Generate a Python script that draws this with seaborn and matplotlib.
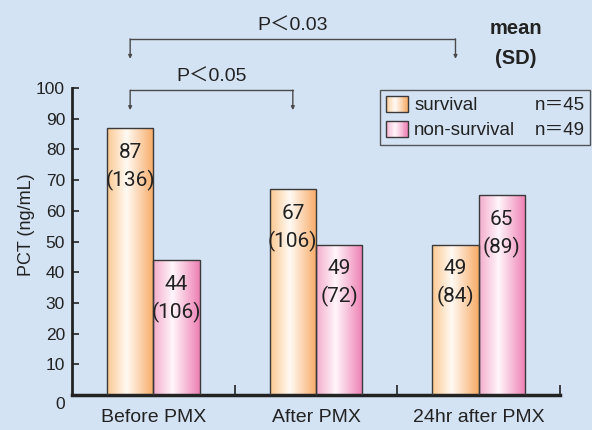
import numpy as np
import pandas as pd
import matplotlib
matplotlib.use("Agg")
import matplotlib.pyplot as plt
from matplotlib.colors import LinearSegmentedColormap
from matplotlib.patches import Patch, Rectangle
from matplotlib.legend_handler import HandlerBase
from matplotlib import font_manager
import seaborn as sns

# data
phases = ["Before PMX", "After PMX", "24hr after PMX"]
groups = ["survival", "non-survival"]
group_n = ["n＝45", "n＝49"]
survival_mean = [87, 67, 49]
survival_sd = [136, 106, 84]
nonsurv_mean = [44, 49, 65]
nonsurv_sd = [106, 72, 89]
y_ticks = list(range(0, 101, 10))
# comparisons of the survival group against "Before PMX"
comp_phase = [1, 2]
comp_text = ["P＜0.05", "P＜0.03"]

bg = "#d3e3f3"
ink = "#222222"
edge = "#3a3a3a"
grad_stops = {
    "survival": ["#fcc890", "#fffaf4", "#f8ab66"],
    "non-survival": ["#f4abcc", "#fff6fa", "#ee7fb4"],
}
solid = {"survival": "#fdd3a8", "non-survival": "#f6b6d3"}
cmaps = {g: LinearSegmentedColormap.from_list(g, [(0, c[0]), (0.42, c[1]), (1, c[2])])
         for g, c in grad_stops.items()}

names = {f.name for f in font_manager.fontManager.ttflist}
narrow = "Liberation Sans Narrow" if "Liberation Sans Narrow" in names else "Roboto"

sns.set_theme(style="white")
plt.rcParams["font.family"] = ["Liberation Sans", "Noto Sans CJK JP", "DejaVu Sans"]
narrow_fam = [narrow, "Liberation Sans", "DejaVu Sans"]


class GradientHandler(HandlerBase):
    # legend key drawn as thin vertical stripes following the bar gradient
    def create_artists(self, legend, orig_handle, xdescent, ydescent, width, height,
                       fontsize, trans):
        cmap = cmaps[orig_handle.get_label()]
        n = 24
        arts = []
        for i in range(n):
            arts.append(Rectangle((-xdescent + width * i / n, -ydescent), width / n + 0.3,
                                  height, facecolor=cmap((i + 0.5) / n), edgecolor="none",
                                  transform=trans))
        arts.append(Rectangle((-xdescent, -ydescent), width, height, facecolor="none",
                              edgecolor=edge, linewidth=1, transform=trans))
        return arts


df = pd.DataFrame({
    "phase": phases * 2,
    "group": [groups[0]] * 3 + [groups[1]] * 3,
    "mean": survival_mean + nonsurv_mean,
})

fig = plt.figure(figsize=(5.92, 4.30), dpi=100, facecolor=bg)
ax = fig.add_axes([72 / 592, 1 - 395 / 430, 488 / 592, 307 / 430])
ax.set_facecolor(bg)

sns.barplot(data=df, x="phase", y="mean", hue="group", order=phases, hue_order=groups,
            palette=[solid[g] for g in groups], width=0.57, edgecolor=edge, linewidth=1,
            errorbar=None, legend=False, ax=ax, zorder=2)

# gradient fill inside each bar
ramp = np.linspace(0, 1, 256)[None, :]
for cont, g in zip(ax.containers, groups):
    for bar in cont:
        x0, w, h = bar.get_x(), bar.get_width(), bar.get_height()
        img = ax.imshow(ramp, cmap=cmaps[g], extent=[x0, x0 + w, 0, h], aspect="auto",
                        interpolation="bilinear", zorder=2)
        img.set_clip_path(bar)
        bar.set_facecolor("none")
        bar.set_zorder(3)

ax.set_xlim(-0.5, 2.5)
ax.set_ylim(0, 100)

# mean / sd labels inside bars
for cont, sds in zip(ax.containers, [survival_sd, nonsurv_sd]):
    for bar, sd in zip(cont, sds):
        cx = bar.get_x() + bar.get_width() / 2
        top = bar.get_height()
        ax.annotate(f"{top:.0f}", (cx, top), xytext=(0, -17.5), textcoords="offset points",
                    ha="center", va="center", fontsize=15, color=ink, family=narrow_fam, zorder=4)
        ax.annotate(f"({sd})", (cx, top), xytext=(0, -37.5), textcoords="offset points",
                    ha="center", va="center", fontsize=15, color=ink, family=narrow_fam, zorder=4)

# significance brackets
surv_bars = ax.containers[0]
x_ref = surv_bars[0].get_x() + surv_bars[0].get_width() / 2
br_y = [99.3, 116.0]
br_drop = 6.5
br_ty = [103.4, 120.2]
for ph, txt, yy, ty in zip(comp_phase, comp_text, br_y, br_ty):
    b = surv_bars[ph]
    x2 = b.get_x() + b.get_width() / 2
    ax.plot([x_ref, x2], [yy, yy], color="#4a4a4a", lw=1, clip_on=False)
    for xx in (x_ref, x2):
        ax.annotate("", xy=(xx, yy - br_drop), xytext=(xx, yy),
                    arrowprops=dict(arrowstyle="-|>", color="#4a4a4a", lw=1,
                                    mutation_scale=5, shrinkA=0, shrinkB=0),
                    annotation_clip=False)
    ax.text((x_ref + x2) / 2, ty, txt, ha="center", va="center", fontsize=14,
            color=ink, clip_on=False)

fig.text(516 / 592, 1 - 28 / 430, "mean", ha="center", va="center", fontsize=14.5,
         fontweight="bold", color=ink)
fig.text(516 / 592, 1 - 58 / 430, "(SD)", ha="center", va="center", fontsize=14.5,
         fontweight="bold", color=ink)

# axes styling
for s in ("top", "right"):
    ax.spines[s].set_visible(False)
ax.spines["left"].set_linewidth(2)
ax.spines["left"].set_color(ink)
ax.spines["bottom"].set_linewidth(2.5)
ax.spines["bottom"].set_color(ink)

ax.set_yticks(y_ticks)
ax.set_yticklabels(["" if t == 0 else str(t) for t in y_ticks])
ax.tick_params(axis="y", direction="in", length=5, width=1.2, color=ink,
               labelsize=12.5, labelcolor=ink, pad=5, left=True)
ax.annotate("0", (0, 0), xycoords=("axes fraction", "data"), xytext=(-5, -7),
            textcoords="offset points", ha="right", va="center", fontsize=12.5, color=ink,
            annotation_clip=False)

ax.set_xticks(range(len(phases)))
ax.set_xticklabels(phases)
ax.tick_params(axis="x", which="major", length=0, labelsize=14, labelcolor=ink, pad=10)
ax.set_xticks([0.5, 1.5, 2.5], minor=True)
ax.tick_params(axis="x", which="minor", direction="in", length=7, width=1.2, color=ink,
               bottom=True)

ax.set_xlabel("")
ax.set_ylabel("PCT (ng/mL)", fontsize=13, color=ink)
ax.yaxis.set_label_coords((35 - 72) / 488, (395 - 225) / 307)

# legend: gradient keys + invisible handles for the n column
handles = [Patch(label=g) for g in groups]
handles += [Patch(facecolor="none", edgecolor="none") for _ in group_n]
leg = ax.legend(handles, groups + group_n, ncol=2, loc="upper left",
                bbox_to_anchor=((380 - 72) / 488, (395 - 90) / 307), borderaxespad=0,
                fontsize=13.5, handlelength=1.2, handleheight=0.95, handletextpad=0.32,
                labelspacing=0.35, columnspacing=-0.5, borderpad=0.3,
                handler_map={h: GradientHandler() for h in handles[:2]},
                fancybox=False, frameon=True, framealpha=1, facecolor=bg, edgecolor="#555555")
leg.get_frame().set_linewidth(1)
for t in leg.get_texts():
    t.set_color(ink)

fig.savefig("out.png", dpi=100, facecolor=bg)
